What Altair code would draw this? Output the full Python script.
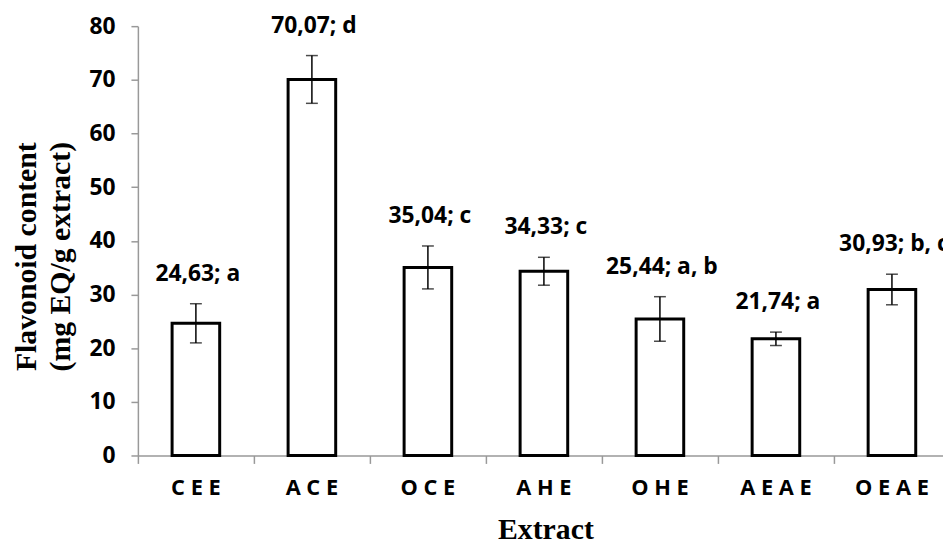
import altair as alt
import pandas as pd

extracts = ["CEE", "ACE", "OCE", "AHE", "OHE", "AEAE", "OEAE"]
means = [24.63, 70.07, 35.04, 34.33, 25.44, 21.74, 30.93]
errors = [3.65, 4.45, 4.0, 2.6, 4.15, 1.25, 2.85]
letters = ["a", "d", "c", "c", "a, b", "a", "b, c"]

df = pd.DataFrame({"extract": extracts, "mean": means, "err": errors, "letter": letters})
df["lo"] = df["mean"] - df["err"]
df["hi"] = df["mean"] + df["err"]
df["label"] = [f"{m:.2f}".replace(".", ",") + "; " + l for m, l in zip(means, letters)]

sans = "Open Sans"
serif = "Liberation Serif"

xscale = alt.Scale(domain=extracts, range=[0, 819], paddingInner=0, paddingOuter=0)
yscale = alt.Scale(domain=[0, 80], nice=False)

x = alt.X(
    "extract:N",
    scale=xscale,
    sort=extracts,
    axis=alt.Axis(
        title="Extract",
        labelAngle=0,
        bandPosition=0,
        tickSize=8,
        labelPadding=14,
        labelFont=sans,
        labelFontSize=22,
        labelFontWeight="bold",
        labelColor="black",
        labelExpr="join(split(datum.label, ''), ' ')",
        titleFont=serif,
        titleFontSize=30,
        titleFontWeight="bold",
        titleColor="black",
        titleX=411,
        titleY=84,
        titleBaseline="alphabetic",
    ),
)

base = alt.Chart(df)

bars = base.mark_bar(size=48, fill="white", stroke="black", strokeWidth=3).encode(
    x=x,
    y=alt.Y(
        "mean:Q",
        scale=yscale,
        axis=alt.Axis(
            title=["Flavonoid content", "(mg EQ/g extract)"],
            values=[0, 10, 20, 30, 40, 50, 60, 70, 80],
            tickSize=7,
            labelPadding=16,
            labelFont=sans,
            labelFontSize=23,
            labelFontWeight="bold",
            labelColor="black",
            titleFont=serif,
            titleFontSize=30,
            titleFontWeight="bold",
            titleColor="black",
            titleLineHeight=34,
            titleX=-97,
            titleY=232,
            titleBaseline="bottom",
            titleAlign="center",
        ),
    ),
)

rules = base.mark_rule(color="black", strokeWidth=1.5).encode(
    x=alt.X("extract:N", scale=xscale, sort=extracts),
    y=alt.Y("lo:Q", scale=yscale),
    y2="hi:Q",
)
cap_hi = base.mark_tick(orient="horizontal", size=12, thickness=1.5, color="black").encode(
    x=alt.X("extract:N", scale=xscale, sort=extracts),
    y=alt.Y("hi:Q", scale=yscale),
)
cap_lo = base.mark_tick(orient="horizontal", size=12, thickness=1.5, color="black").encode(
    x=alt.X("extract:N", scale=xscale, sort=extracts),
    y=alt.Y("lo:Q", scale=yscale),
)
labels = base.mark_text(
    font=sans, fontSize=23, fontWeight="bold", color="black", baseline="middle", dy=-30, dx=2
).encode(
    x=alt.X("extract:N", scale=xscale, sort=extracts),
    y=alt.Y("hi:Q", scale=yscale),
    text="label:N",
)

chart = (
    alt.layer(bars, rules, cap_hi, cap_lo, labels)
    .properties(
        width=812,
        height=433,
        autosize=alt.AutoSizeParams(type="none"),
        padding={"left": 131, "top": 16, "right": 0, "bottom": 92},
        background="white",
    )
    .configure_view(stroke=None)
    .configure_axis(
        grid=False,
        domainColor="#999999",
        tickColor="#999999",
        domainWidth=1.5,
        tickWidth=1.5,
    )
)

chart.save("out.html", embed_options={"renderer": "svg", "actions": False})
